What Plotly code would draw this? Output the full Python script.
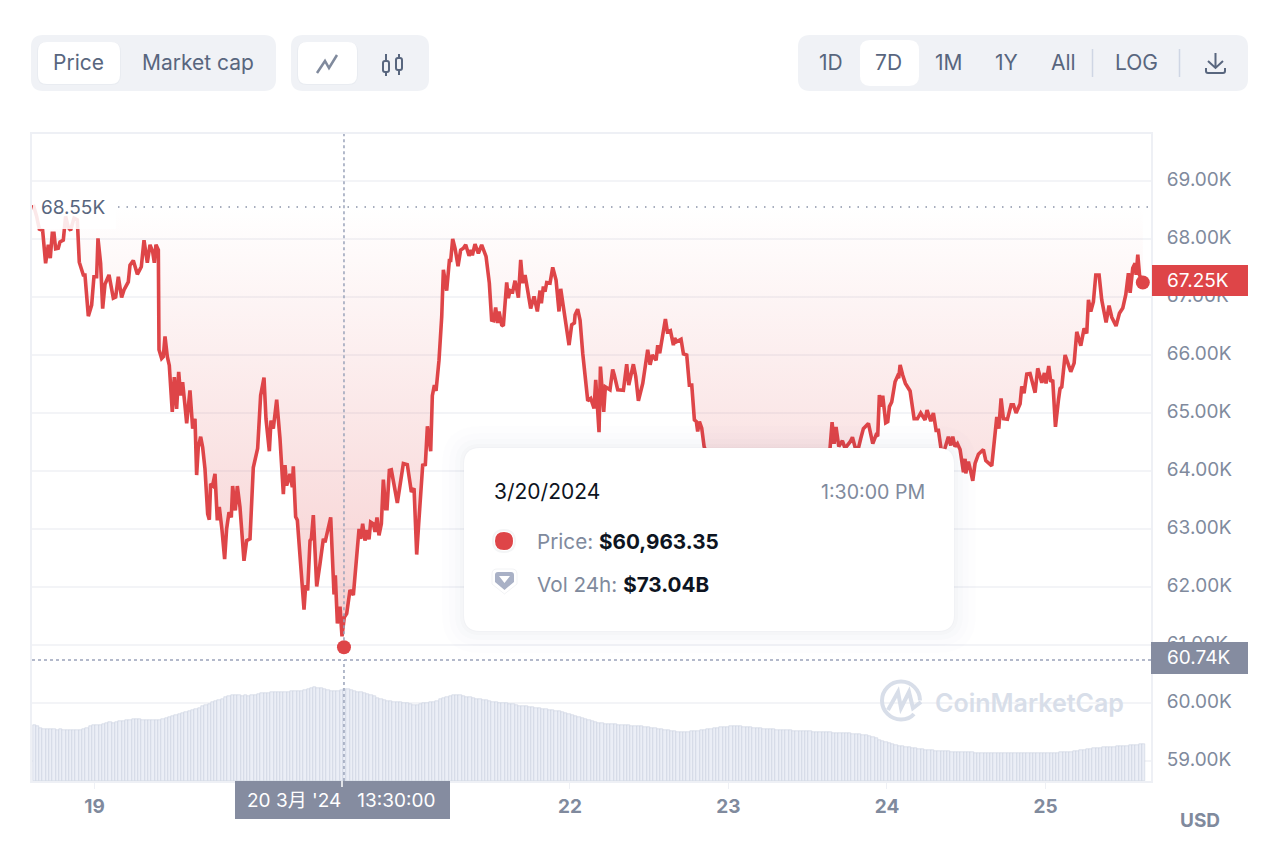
import pandas as pd
import plotly.graph_objects as go

RED = "#DE4548"
SLATE = "#58667E"
GREY = "#808A9D"
BOX_GREY = "#858CA0"
PANEL = "#F0F2F6"
FONT = "Inter, Noto Sans CJK SC, sans-serif"

# hours after 19 Mar 2024 00:00, price in thousands of USD
price_hours = [
    -9.26, -8.76, -8.35, -7.85, -7.40, -6.99, -6.69, -6.39, -6.13, -5.88, -5.48, -5.22, -4.72, -4.37, -3.96, -3.61,
    -3.10, -2.60, -2.30, -1.69, -1.44, -0.93, -0.43, -0.08, 0.33, 0.53, 0.93, 1.24, 1.59, 2.20, 2.85, 3.21,
    3.61, 4.11, 4.47, 5.12, 5.38, 5.88, 6.49, 7.09, 7.50, 8.00, 8.41, 8.81, 9.06, 9.31, 9.67, 9.77,
    10.17, 10.42, 10.68, 11.03, 11.33, 11.78, 12.09, 12.44, 12.75, 13.05, 13.35, 13.70, 13.96, 14.46, 14.87, 15.22,
    15.47, 15.72, 16.08, 16.38, 16.73, 17.14, 17.39, 17.59, 17.89, 18.25, 18.60, 18.90, 19.31, 19.71, 20.01, 20.37,
    20.72, 20.92, 21.33, 21.63, 22.03, 22.64, 23.04, 23.55, 24.05, 24.71, 25.16, 25.67, 25.97, 26.48, 26.73, 27.08,
    27.59, 28.09, 28.60, 28.85, 29.10, 29.61, 29.96, 30.11, 30.46, 30.72, 31.73, 31.98, 32.28, 32.64, 32.84, 33.14,
    33.65, 34.15, 34.66, 34.91, 35.77, 36.27, 36.47, 36.78, 37.18, 37.48, 37.83, 38.19, 38.69, 39.20, 40.06, 40.31,
    40.61, 40.96, 41.22, 41.57, 41.82, 42.23, 42.48, 42.78, 43.08, 43.44, 43.74, 44.09, 44.30, 44.65, 44.95, 45.86,
    46.77, 47.37, 47.98, 48.39, 48.79, 49.09, 49.70, 50.10, 50.41, 50.91, 51.16, 51.47, 51.72, 52.17, 52.58, 52.83,
    53.33, 53.74, 53.94, 54.24, 54.60, 55.05, 55.45, 55.86, 56.21, 56.72, 57.02, 57.22, 57.62, 58.13, 58.63, 59.29,
    59.79, 60.14, 60.45, 60.75, 61.05, 61.26, 61.66, 61.91, 62.42, 62.67, 62.92, 63.33, 63.68, 64.19, 64.54, 64.84,
    65.20, 65.60, 66.05, 66.56, 67.06, 67.47, 67.67, 67.97, 68.22, 68.48, 68.98, 69.39, 69.89, 70.34, 70.60, 71.00,
    71.86, 72.26, 72.67, 72.77, 73.17, 73.53, 73.93, 74.69, 75.14, 75.65, 75.90, 76.40, 76.61, 77.11, 77.36, 78.06,
    78.47, 78.72, 79.23, 80.09, 80.59, 80.90, 81.60, 81.96, 82.36, 83.02, 83.77, 84.13, 84.48, 85.04, 85.29, 85.59,
    86.45, 86.75, 87.21, 87.66, 87.86, 88.17, 88.82, 89.18, 89.68, 90.08, 90.44, 90.84, 91.14, 91.34, 91.60, 91.95,
    92.31, 92.71, 94.0, 96.0, 98.0, 100.0, 102.0, 104.0, 106.0, 108.0, 110.0, 111.38, 111.69, 111.99, 112.29, 112.70,
    113.25, 113.65, 114.41, 114.77, 115.17, 115.67, 116.03, 116.43, 117.19, 117.85, 118.35, 118.60, 118.85, 119.10, 119.36, 119.81,
    120.12, 120.37, 120.72, 121.23, 121.58, 121.78, 121.99, 122.39, 122.79, 123.50, 124.11, 124.61, 125.11, 125.77, 126.07, 126.63,
    127.03, 127.44, 127.79, 128.29, 128.80, 129.30, 129.66, 129.96, 130.31, 130.67, 131.07, 131.58, 131.83, 131.93, 132.33, 132.59,
    132.99, 133.34, 133.85, 134.60, 134.96, 135.87, 136.63, 136.93, 137.28, 137.63, 138.24, 138.80, 139.15, 139.55, 140.16, 140.41,
    140.76, 141.17, 141.67, 142.43, 142.83, 143.44, 143.84, 144.09, 144.50, 144.80, 145.10, 145.51, 145.96, 146.21, 146.47, 146.97,
    147.33, 147.83, 148.34, 148.74, 149.35, 149.85, 150.25, 150.51, 150.86, 151.26, 151.62, 152.12, 152.52, 153.18, 153.63, 154.04,
    154.69, 155.20, 155.71, 156.16, 156.56, 156.82, 157.22, 157.57, 157.73, 157.98, 158.24, 158.74,
]
price_k = [
    68.59, 68.39, 68.17, 68.15, 67.58, 67.90, 67.67, 68.10, 68.10, 67.83, 67.84, 67.95, 67.98, 68.39, 68.20, 68.15,
    68.36, 68.33, 67.60, 67.38, 67.38, 66.67, 66.86, 67.35, 67.35, 68.01, 67.58, 66.80, 67.22, 67.38, 66.98, 67.00,
    67.35, 66.99, 67.12, 67.26, 67.55, 67.63, 67.39, 67.52, 67.98, 67.59, 67.90, 67.78, 67.59, 67.90, 67.81, 66.09,
    65.94, 65.97, 66.32, 65.97, 65.82, 65.02, 65.62, 65.07, 65.71, 65.30, 65.53, 65.13, 64.82, 65.39, 64.73, 64.90,
    63.93, 64.41, 64.59, 64.41, 64.04, 63.26, 63.16, 63.78, 63.75, 63.95, 63.15, 63.38, 62.98, 62.48, 63.00, 63.29,
    63.20, 63.74, 63.32, 63.74, 63.38, 62.45, 62.80, 62.83, 64.06, 64.39, 65.30, 65.61, 64.90, 64.34, 64.87, 64.73,
    65.23, 64.56, 63.60, 64.10, 63.75, 63.95, 63.72, 64.08, 63.21, 63.15, 61.61, 62.03, 61.94, 62.80, 62.83, 63.24,
    62.01, 62.40, 62.83, 62.77, 63.20, 61.87, 62.20, 61.37, 61.66, 61.15, 61.48, 61.54, 61.95, 61.86, 63.00, 62.83,
    63.09, 62.80, 62.98, 62.82, 63.12, 63.09, 62.95, 63.20, 62.89, 63.09, 63.85, 63.35, 63.35, 64.01, 64.02, 63.45,
    64.13, 64.11, 63.64, 63.70, 62.56, 63.09, 64.10, 64.11, 64.77, 64.34, 65.30, 65.48, 65.38, 65.91, 66.66, 67.47,
    67.11, 67.63, 67.63, 68.00, 67.84, 67.53, 67.81, 67.84, 67.90, 67.71, 67.81, 67.72, 67.91, 67.75, 67.90, 67.70,
    67.24, 66.60, 66.59, 66.82, 66.55, 66.75, 66.52, 66.50, 67.25, 66.98, 67.11, 67.09, 67.28, 66.99, 67.64, 67.24,
    67.38, 67.11, 66.80, 67.01, 66.75, 67.11, 66.89, 67.18, 67.09, 67.25, 67.24, 67.51, 67.29, 66.75, 67.14, 66.83,
    66.17, 66.52, 66.55, 66.69, 66.79, 66.60, 66.03, 65.21, 65.25, 65.08, 65.57, 64.67, 65.80, 65.02, 65.45, 65.40,
    65.75, 65.65, 65.40, 65.39, 65.84, 65.48, 65.84, 65.63, 65.21, 65.51, 66.09, 65.83, 66.00, 65.91, 66.17, 66.03,
    66.62, 66.40, 66.42, 66.17, 66.29, 66.23, 66.27, 66.02, 66.00, 65.48, 65.48, 64.88, 64.85, 64.68, 64.85, 64.74,
    64.42, 64.30, 64.00, 63.80, 63.70, 63.50, 63.60, 63.90, 64.00, 63.90, 64.10, 64.39, 64.84, 64.47, 64.76, 64.42,
    64.52, 64.39, 64.50, 64.58, 64.41, 64.39, 64.56, 64.73, 64.82, 64.47, 64.62, 64.60, 65.31, 65.11, 65.30, 64.83,
    64.85, 65.11, 65.19, 65.54, 65.63, 65.60, 65.83, 65.65, 65.51, 65.38, 64.90, 64.90, 65.00, 64.88, 65.05, 64.86,
    65.00, 64.70, 64.70, 64.30, 64.40, 64.59, 64.44, 64.59, 64.42, 64.47, 64.37, 63.98, 64.21, 63.96, 64.16, 64.04,
    63.83, 64.13, 64.29, 64.37, 64.18, 64.09, 64.93, 64.73, 65.25, 64.90, 64.89, 65.14, 65.14, 65.00, 65.16, 65.46,
    65.34, 65.67, 65.68, 65.35, 65.77, 65.52, 65.69, 65.51, 65.81, 65.54, 65.57, 64.76, 65.22, 65.42, 65.45, 66.00,
    65.88, 65.71, 65.86, 66.40, 66.16, 66.46, 66.37, 66.95, 66.75, 66.92, 67.38, 67.38, 66.95, 66.56, 66.85, 66.65,
    66.50, 66.72, 66.81, 67.04, 67.41, 67.07, 67.50, 67.58, 67.38, 67.73, 67.38, 67.25,
]

# 24h volume in billions of USD, one bar every 30 minutes
volume_start = "2024-03-18 14:52"
volume_b = [
    44.5, 43.5, 42.2, 41.3, 41.0, 41.3, 41.0, 40.8, 41.0, 40.6, 40.5, 40.5, 40.6, 40.5, 40.5, 41.5, 42.5, 43.5, 44.5,
    44.8, 44.6, 45.4, 46.0, 46.5, 46.4, 47.0, 47.6, 47.8, 48.2, 48.8, 49.2, 49.4, 49.1, 48.8, 48.6, 48.4, 48.5, 48.4, 48.4,
    49.0, 50.2, 51.0, 51.4, 52.4, 53.2, 53.8, 55.0, 55.6, 56.2, 57.4, 58.0, 59.2, 60.4, 61.5, 62.7, 63.4, 64.2, 65.0, 66.4,
    67.6, 68.3, 68.6, 68.4, 67.8, 68.0, 67.9, 68.0, 68.3, 69.4, 69.9, 70.0, 70.0, 70.4, 70.4, 70.4, 70.4, 70.5, 70.6, 71.5,
    71.4, 71.5, 71.6, 72.4, 73.4, 74.2, 74.6, 74.0, 73.5, 72.8, 72.4, 71.8, 71.5, 71.4, 72.6, 73.0, 73.0, 72.6, 71.6, 71.0,
    70.7, 70.2, 69.0, 68.2, 67.2, 66.0, 65.0, 64.3, 63.6, 63.4, 63.0, 62.8, 62.4, 62.0, 61.6, 61.0, 60.3, 60.6, 61.4, 61.8,
    62.0, 62.4, 62.7, 63.6, 64.8, 66.0, 67.0, 67.8, 68.3, 68.6, 68.0, 67.4, 67.0, 66.6, 66.0, 65.4, 65.0, 64.6, 64.2, 63.6,
    63.0, 62.4, 62.0, 61.8, 61.6, 61.2, 60.8, 60.2, 59.8, 59.6, 59.2, 59.0, 58.6, 58.2, 57.8, 57.4, 57.0, 56.6, 56.2, 55.9,
    55.6, 55.0, 54.2, 53.2, 52.4, 51.6, 50.8, 50.0, 49.2, 48.4, 47.6, 46.8, 46.0, 45.8, 45.6, 45.4, 45.2, 45.0, 44.8, 44.6,
    44.4, 44.2, 44.0, 43.9, 43.8, 43.7, 43.2, 42.8, 42.4, 42.0, 41.6, 41.2, 40.8, 40.4, 40.0, 39.6, 39.2, 38.9, 39.0, 39.2,
    39.4, 39.6, 39.9, 40.2, 40.6, 41.0, 41.4, 41.8, 42.2, 42.6, 43.0, 43.3, 43.6, 43.7, 43.7, 43.5, 43.3, 43.0, 42.8, 42.5,
    42.2, 42.0, 41.7, 41.4, 41.2, 41.0, 40.7, 40.5, 40.4, 40.3, 40.2, 40.0, 39.9, 39.8, 39.7, 39.5, 39.4, 39.3, 39.1, 39.0,
    38.9, 38.8, 38.6, 38.5, 38.4, 38.2, 38.1, 38.0, 37.8, 37.6, 37.4, 37.3, 36.8, 36.2, 35.4, 34.6, 33.8, 32.8, 31.8, 31.0,
    30.2, 29.4, 28.6, 28.2, 27.8, 27.4, 27.0, 26.6, 26.2, 25.8, 25.4, 25.0, 24.6, 24.4, 24.2, 24.0, 23.8, 23.6, 23.5, 23.3,
    23.1, 23.0, 22.9, 22.8, 22.8, 22.7, 22.6, 22.5, 22.4, 22.4, 22.3, 22.2, 22.2, 22.2, 22.3, 22.4, 22.5, 22.4, 22.3, 22.3,
    22.2, 22.3, 22.4, 22.4, 22.3, 22.2, 22.2, 22.2, 22.3, 22.4, 22.5, 22.6, 22.7, 22.8, 23.0, 23.4, 23.8, 24.2, 24.6, 25.0,
    25.4, 25.8, 26.2, 26.4, 26.6, 26.8, 27.0, 27.2, 27.4, 27.6, 27.8, 28.0, 28.2, 28.4, 28.6, 28.8, 29.1, 29.4,
]

y_ticks = [59, 60, 61, 62, 63, 64, 65, 66, 67, 68, 69]
y_labels = ["59.00K", "60.00K", "61.00K", "62.00K", "63.00K", "64.00K", "65.00K", "66.00K", "67.00K", "68.00K", "69.00K"]
x_ticks = ["2024-03-19", "2024-03-20", "2024-03-21", "2024-03-22", "2024-03-23", "2024-03-24", "2024-03-25"]
# 20 and 21 sit behind the crosshair date flag
x_labels = ["19", "", "", "22", "23", "24", "25"]

open_price = 68.55
last_price = 67.25
cross_level = 60.74
cross_hour = 37.78
cross_price = 60.96
y_range = [58.655, 69.81]


def to_time(hours):
    return pd.Timestamp("2024-03-19") + pd.to_timedelta(hours, unit="h")


# page pixels -> plot area fractions, the page has an 8px body margin
PLOT_L, PLOT_R, PLOT_T, PLOT_B = 32, 1151, 134, 781


def px(x):
    return round((x - PLOT_L) / (PLOT_R - PLOT_L), 5)


def py(y):
    return round((PLOT_B - y) / (PLOT_B - PLOT_T), 5)


def pt(x, y):
    return f"{px(x)},{py(y)}"


def rrect(x0, y0, x1, y1, r):
    return (f"M{pt(x0 + r, y0)} L{pt(x1 - r, y0)} Q{pt(x1, y0)} {pt(x1, y0 + r)} "
            f"L{pt(x1, y1 - r)} Q{pt(x1, y1)} {pt(x1 - r, y1)} "
            f"L{pt(x0 + r, y1)} Q{pt(x0, y1)} {pt(x0, y1 - r)} "
            f"L{pt(x0, y0 + r)} Q{pt(x0, y0)} {pt(x0 + r, y0)} Z")


shapes = []
notes = []


def box(x0, y0, x1, y1, r, color):
    shapes.append(dict(type="path", xref="paper", yref="paper", path=rrect(x0, y0, x1, y1, r),
                       fillcolor=color, line=dict(width=0)))


def stroke(path, color, width=2):
    shapes.append(dict(type="path", xref="paper", yref="paper", path=path,
                       line=dict(color=color, width=width)))


def note(x, y, text, size, color, anchor="center", weight=None):
    notes.append(dict(xref="paper", yref="paper", x=px(x), y=py(y), text=text, showarrow=False,
                      xanchor=anchor, yanchor="middle", borderpad=0,
                      font=dict(family=FONT, size=size, color=color, weight=weight)))


cross_time = to_time(cross_hour)
cross_line = dict(color="#9AA3BA", width=1.5, dash="3px,3px")

# crosshair leaves a gap around the dot, and the open price guide
shapes.append(dict(type="line", xref="x", yref="y", x0=cross_time, x1=cross_time,
                   y0=cross_price + 0.12, y1=y_range[1], line=cross_line))
shapes.append(dict(type="line", xref="x", yref="y", x0=cross_time, x1=cross_time,
                   y0=y_range[0], y1=cross_level, line=cross_line))
shapes.append(dict(type="line", xref="paper", yref="y", x0=0, x1=1, y0=cross_level, y1=cross_level, line=cross_line))
shapes.append(dict(type="line", xref="paper", yref="y", x0=px(118), x1=px(1148), y0=open_price, y1=open_price,
                   line=dict(color="#8A93A8", width=1.5, dash="1.5px,7px")))
box(33, 198, 116, 229, 0, "rgba(255,255,255,0.88)")
note(40, 208, "68.55K", 19, SLATE, "left")

# axis flags
box(1152, 265, 1248, 296, 0, RED)
note(1166.5, 281, "67.25K", 19, "#FFFFFF", "left")
box(1151, 642, 1248, 674, 0, BOX_GREY)
note(1166.5, 658, "60.74K", 19, "#FFFFFF", "left")
box(235, 781, 450, 819, 0, BOX_GREY)
note(341, 800, "20 3月 '24&nbsp;&nbsp;&nbsp;13:30:00", 19, "#FFFFFF")
shapes.append(dict(type="line", xref="paper", yref="paper", x0=px(342), x1=px(342), y0=py(781), y1=py(787),
                   line=dict(color="#FFFFFF", width=1.5)))
note(1200, 821, "USD", 19, GREY, weight=700)

# watermark
stroke(f"M{pt(920, 700.5)} C{pt(920, 690)} {pt(911.5, 681.5)} {pt(901, 681.5)} "
       f"C{pt(890.5, 681.5)} {pt(882, 690)} {pt(882, 700.5)} "
       f"C{pt(882, 711)} {pt(890.5, 719.5)} {pt(901, 719.5)} "
       f"C{pt(906, 719.5)} {pt(911, 717.5)} {pt(914, 714)}", "#D8DEE9", 4)
stroke(f"M{pt(888, 710)} L{pt(898, 692)} L{pt(901, 708)} L{pt(909, 692)} L{pt(913, 708)} L{pt(921, 702)}", "#D8DEE9", 4)
note(934.5, 703, "CoinMarketCap", 25, "#D8DEE9", "left", 600)

# tooltip with a soft shadow
for grow, alpha in [(22, 0.006), (15, 0.008), (9, 0.010), (4, 0.014), (1, 0.020)]:
    box(464 - grow, 448 - grow, 954 + grow, 631 + grow, 16 + grow, f"rgba(40,50,80,{alpha})")
box(464, 448, 954, 631, 16, "#FFFFFF")
note(492.5, 491, "3/20/2024", 21, "#0D1421", "left")
note(926, 492, "1:30:00 PM", 19.6, GREY, "right")
box(492, 529, 516, 553, 12, "rgba(40,50,80,0.05)")
box(494, 531, 514, 551, 10, "#FFFFFF")
box(495, 532, 513, 550, 9, RED)
note(535.5, 541, f'Price: <b><span style="color:#0D1421">$60,963.35</span></b>', 20.7, GREY, "left")
shapes.append(dict(type="path", xref="paper", yref="paper",
                   path=f"M{pt(492, 574)} Q{pt(492, 569)} {pt(497, 569)} L{pt(512, 569)} Q{pt(517, 569)} {pt(517, 574)} "
                        f"L{pt(517, 584)} L{pt(504.5, 594)} L{pt(492, 584)} Z",
                   fillcolor="#FFFFFF", line=dict(color="rgba(40,50,80,0.06)", width=1)))
shapes.append(dict(type="path", xref="paper", yref="paper",
                   path=f"M{pt(495, 575)} Q{pt(495, 572)} {pt(498, 572)} L{pt(511, 572)} Q{pt(514, 572)} {pt(514, 575)} "
                        f"L{pt(514, 582)} L{pt(504.5, 590)} L{pt(495, 582)} Z "
                        f"M{pt(499, 576)} L{pt(504.5, 583)} L{pt(510, 576)} Z",
                   fillcolor="#A9B1C6", line=dict(width=0)))
note(535.5, 584, f'Vol 24h: <b><span style="color:#0D1421">$73.04B</span></b>', 20.7, GREY, "left")

# toolbar
box(31, 35, 276, 91, 12, PANEL)
box(37, 42, 121, 85, 10, "rgba(40,50,80,0.03)")
box(38, 42, 120, 84, 9, "#FFFFFF")
note(79, 63, "Price", 21, SLATE)
note(198, 63, "Market cap", 21, SLATE)
box(291, 35, 429, 91, 12, PANEL)
box(297, 42, 358, 85, 10, "rgba(40,50,80,0.03)")
box(298, 42, 357, 84, 9, "#FFFFFF")
stroke(f"M{pt(317, 73)} L{pt(325, 61)} L{pt(329, 68)} L{pt(337, 55)}", GREY, 2.5)
stroke(rrect(383, 61, 389, 72, 2), SLATE)
stroke(rrect(396, 58, 402, 70, 2), SLATE)
stroke(f"M{pt(386, 54)} L{pt(386, 61)} M{pt(386, 72)} L{pt(386, 76)} "
       f"M{pt(399, 54)} L{pt(399, 58)} M{pt(399, 70)} L{pt(399, 75)}", SLATE)

box(798, 35, 1248, 91, 12, PANEL)
box(860, 40, 919, 86, 10, "#FFFFFF")
for x, label in zip([831, 889, 949, 1007, 1063, 1136], ["1D", "7D", "1M", "1Y", "All", "LOG"]):
    note(x, 63, label, 21, SLATE)
for x in [1092.5, 1179.5]:
    shapes.append(dict(type="line", xref="paper", yref="paper", x0=px(x), x1=px(x), y0=py(49), y1=py(77),
                       line=dict(color="#CFD6E4", width=1.5)))
stroke(f"M{pt(1215.5, 53)} L{pt(1215.5, 67)} M{pt(1208, 61)} L{pt(1215.5, 68)} L{pt(1223, 61)}", SLATE)
stroke(f"M{pt(1206, 68)} L{pt(1206, 71)} Q{pt(1206, 73)} {pt(1208, 73)} L{pt(1223, 73)} "
       f"Q{pt(1225, 73)} {pt(1225, 71)} L{pt(1225, 68)}", SLATE)

price_time = to_time(price_hours)

fig = go.Figure()
fig.add_trace(go.Bar(
    x=pd.date_range(volume_start, periods=len(volume_b), freq="30min"), y=volume_b, yaxis="y2",
    width=1800000, marker=dict(color="#EBEEF6", line=dict(color="#C4CCDD", width=0.5)), hoverinfo="skip",
))
# invisible baseline at the opening price, the price line fills up to it
fig.add_trace(go.Scatter(
    x=[price_time[0], price_time[-1]], y=[open_price, open_price], mode="lines",
    line=dict(width=0, color="rgba(0,0,0,0)"), hoverinfo="skip",
))
fig.add_trace(go.Scatter(
    x=price_time, y=price_k, mode="lines", fill="tonexty",
    line=dict(color=RED, width=3.6, simplify=False),
    fillgradient=dict(type="vertical", start=open_price, stop=60.9,
                      colorscale=[[0, "rgba(222,69,72,0)"], [1, "rgba(222,69,72,0.27)"]]),
    hoverinfo="skip",
))
fig.add_trace(go.Scatter(
    x=[cross_time, price_time[-1]], y=[cross_price, last_price], mode="markers",
    marker=dict(color=RED, size=14), hoverinfo="skip",
))

fig.update_layout(
    width=1272, height=850,
    margin=dict(l=24, r=129, t=126, b=77),
    paper_bgcolor="#FFFFFF", plot_bgcolor="#FFFFFF",
    showlegend=False, hovermode=False, bargap=0,
    font=dict(family=FONT, color=GREY),
    shapes=shapes, annotations=notes,
    xaxis=dict(
        type="date", range=[to_time(-9.46), to_time(159.98)],
        tickvals=x_ticks, ticktext=x_labels, tickfont=dict(size=19, weight=700, color=GREY),
        ticks="outside", ticklen=6, tickcolor="#EEF0F5", ticklabelstandoff=1,
        showgrid=False, zeroline=False, showline=True, mirror=True, linecolor="#EEF0F5", linewidth=2,
    ),
    yaxis=dict(
        side="right", range=y_range,
        tickvals=y_ticks, ticktext=y_labels, tickfont=dict(size=19, color=GREY),
        ticks="", ticklabelstandoff=10, ticklabelshift=-2,
        showgrid=True, gridcolor="#F3F4F7", gridwidth=1.5, zeroline=False,
        showline=True, mirror=True, linecolor="#EEF0F5", linewidth=2,
    ),
    yaxis2=dict(overlaying="y", range=[0, 514], visible=False),
)

fig.write_html("out.html")
